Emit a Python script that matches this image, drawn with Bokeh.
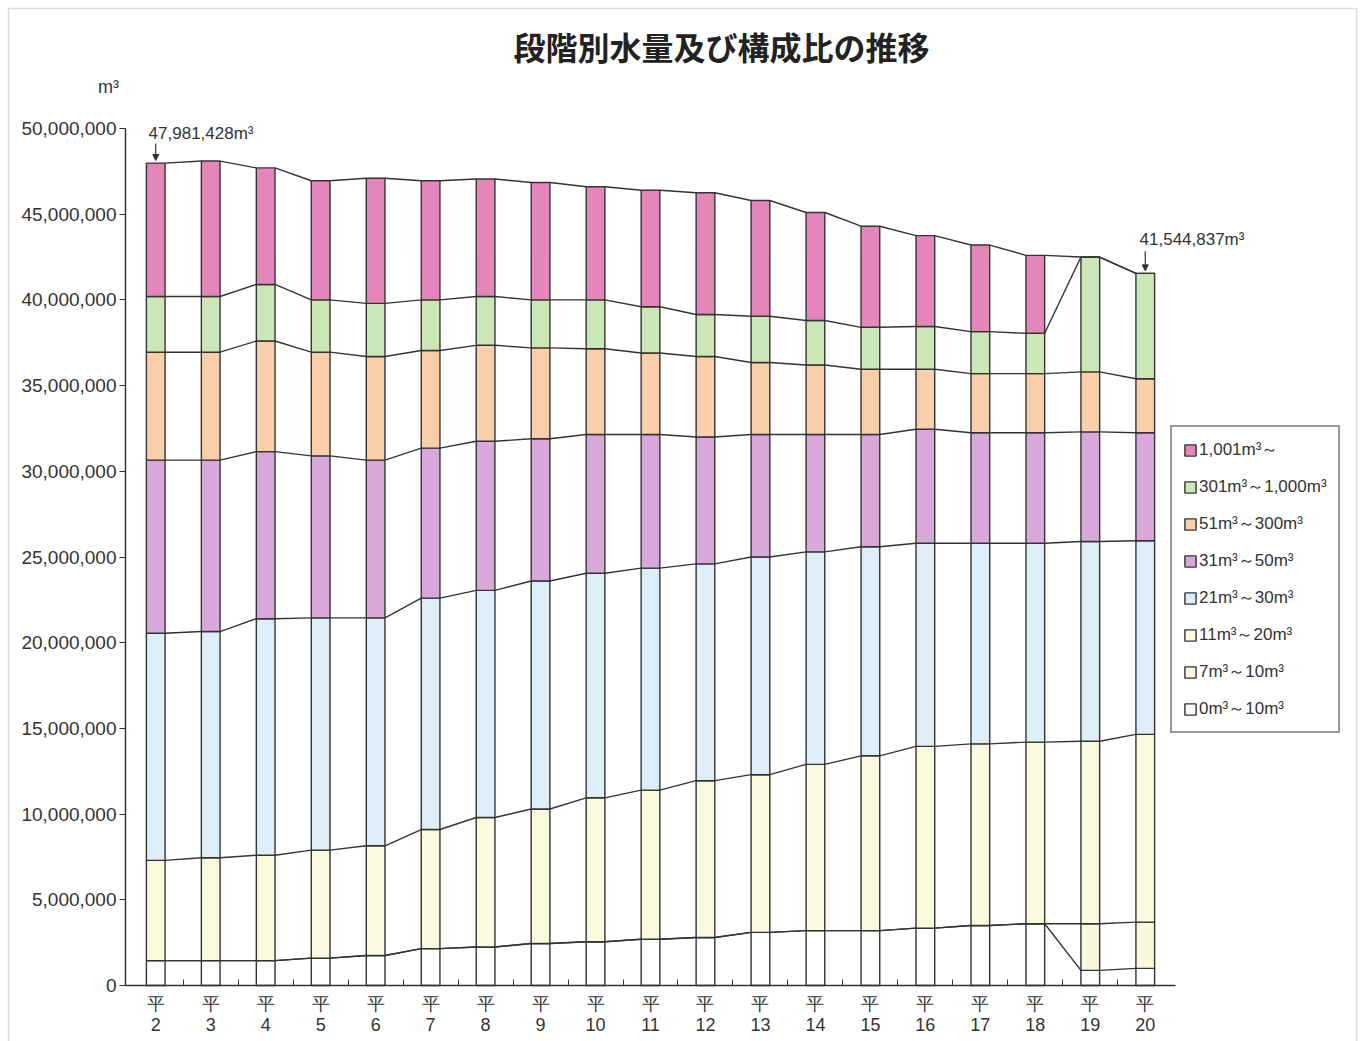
import numpy as np
from bokeh.plotting import figure
from bokeh.models import (ColumnDataSource, FixedTicker, NumeralTickFormatter, Legend,
                          LegendItem, Label, Arrow, NormalHead, BoxAnnotation)
from bokeh.embed import file_html
from bokeh.resources import INLINE

years = [2, 3, 4, 5, 6, 7, 8, 9, 10, 11, 12, 13, 14, 15, 16, 17, 18, 19, 20]
tick_labels = [f"平\n{y}" for y in years]

layer_names = ["0m³～10m³", "7m³～10m³", "11m³～20m³", "21m³～30m³",
               "31m³～50m³", "51m³～300m³", "301m³～1,000m³", "1,001m³～"]

v_0_10 = [1450000, 1450000, 1450000, 1600000, 1750000, 2150000, 2250000, 2450000, 2550000, 2700000,
          2800000, 3100000, 3200000, 3200000, 3350000, 3500000, 3600000, 880000, 1000000]
v_7_10 = [0, 0, 0, 0, 0, 0, 0, 0, 0, 0, 0, 0, 0, 0, 0, 0, 0, 2720000, 2700000]
v_11_20 = [5850000, 6000000, 6150000, 6300000, 6400000, 6950000, 7550000, 7850000, 8400000, 8700000,
           9150000, 9200000, 9700000, 10200000, 10600000, 10600000, 10600000, 10650000, 10950000]
v_21_30 = [13250000, 13200000, 13800000, 13550000, 13300000, 13500000, 13250000, 13300000, 13100000, 12950000,
           12650000, 12700000, 12400000, 12200000, 11850000, 11700000, 11600000, 11650000, 11300000]
v_31_50 = [10100000, 10000000, 9750000, 9450000, 9200000, 8750000, 8700000, 8300000, 8100000, 7800000,
           7400000, 7150000, 6850000, 6550000, 6650000, 6450000, 6450000, 6400000, 6300000]
v_51_300 = [6300000, 6300000, 6450000, 6050000, 6050000, 5700000, 5600000, 5300000, 5000000, 4750000,
            4700000, 4200000, 4050000, 3800000, 3500000, 3450000, 3450000, 3500000, 3150000]
v_301_1000 = [3250000, 3250000, 3300000, 3050000, 3100000, 2950000, 2850000, 2800000, 2850000, 2700000,
              2450000, 2700000, 2600000, 2450000, 2500000, 2450000, 2350000, 6700000, 6144837]
v_1001 = [7781428, 7900000, 6800000, 6950000, 7300000, 6950000, 6850000, 6850000, 6600000, 6800000,
          7100000, 6750000, 6300000, 5900000, 5300000, 5050000, 4550000, 0, 0]

colors = ["#FFFFFF", "#FAF8DC", "#FBFADF", "#DDEEF8", "#D9A8DA", "#F9CFAB", "#CBE6B7", "#E586BA"]

keys = ["l0", "l1", "l2", "l3", "l4", "l5", "l6", "l7"]
layers = [v_0_10, v_7_10, v_11_20, v_21_30, v_31_50, v_51_300, v_301_1000, v_1001]
data = {"x": years}
for k, arr in zip(keys, layers):
    data[k] = arr
src = ColumnDataSource(data)

# page geometry: frame fills the whole canvas, axes are placed at fixed locations
WIDTH, HEIGHT = 1362, 1041
AX_L, AX_R, AX_T, AX_B = 125, 1175, 128, 985
X_LO, X_HI = years[0] - 0.55, years[-1] + 0.55
Y_LO, Y_HI = 0, 50000000
dx = (X_HI - X_LO) / (AX_R - AX_L)
dy = (Y_HI - Y_LO) / (AX_B - AX_T)
x_start = X_LO - AX_L * dx
x_end = X_HI + (WIDTH - AX_R) * dx
y_start = Y_LO - (HEIGHT - AX_B) * dy
y_end = Y_HI + AX_T * dy

W = 0.34
p = figure(width=WIDTH, height=HEIGHT, output_backend="svg", toolbar_location=None,
           x_range=(x_start, x_end), y_range=(y_start, y_end),
           min_border=0)
p.background_fill_color = "white"
p.border_fill_color = "white"
p.outline_line_color = None
p.grid.visible = False

# page frame of the scanned sheet
p.add_layout(BoxAnnotation(left=x_start + 8 * dx, right=x_end - 6 * dx,
                           top=y_end - 8 * dy, bottom=y_start - 50 * dy,
                           fill_alpha=0, line_color="#8a8a8a", line_width=1.5))

rs = p.vbar_stack(keys, x="x", width=W, source=src, fill_color=colors,
                  line_color="#333333", line_width=1.4)

# connecting lines between bars at every cumulative boundary
cum = np.cumsum(np.array(layers, dtype=float), axis=0)
xs = np.array(years, dtype=float)
x0s, y0s, x1s, y1s = [], [], [], []
for k in range(cum.shape[0]):
    for i in range(len(years) - 1):
        x0s.append(xs[i] + W / 2)
        y0s.append(cum[k, i])
        x1s.append(xs[i + 1] - W / 2)
        y1s.append(cum[k, i + 1])
p.segment(x0=x0s, y0=y0s, x1=x1s, y1=y1s, line_color="#333333", line_width=1.4)

# axes
p.xaxis.fixed_location = 0
p.xaxis.bounds = (X_LO, X_HI)
p.xaxis.ticker = FixedTicker(ticks=years, minor_ticks=[y + 0.5 for y in years[:-1]])
p.xaxis.major_label_overrides = {y: lab for y, lab in zip(years, tick_labels)}
p.xaxis.major_tick_in = 0
p.xaxis.major_tick_out = 0
p.xaxis.minor_tick_in = 6
p.xaxis.minor_tick_out = 0
p.xaxis.minor_tick_line_color = "#333333"
p.xaxis.axis_line_color = "#333333"
p.xaxis.axis_line_width = 1.5
p.xaxis.major_label_text_font = "Liberation Sans"
p.xaxis.major_label_text_font_size = "18px"
p.xaxis.major_label_text_line_height = 1.05
p.xaxis.major_label_text_color = "#333333"
p.xaxis.major_label_standoff = 8

p.yaxis.fixed_location = X_LO
p.yaxis.bounds = (Y_LO, Y_HI)
p.yaxis.ticker = FixedTicker(ticks=list(range(0, 50000001, 5000000)))
p.yaxis.formatter = NumeralTickFormatter(format="0,0")
p.yaxis.major_tick_in = 0
p.yaxis.major_tick_out = 6
p.yaxis.minor_tick_line_color = None
p.yaxis.axis_line_color = "#333333"
p.yaxis.axis_line_width = 1.5
p.yaxis.major_tick_line_color = "#333333"
p.yaxis.major_label_text_font = "Liberation Sans"
p.yaxis.major_label_text_font_size = "19px"
p.yaxis.major_label_text_color = "#333333"
p.yaxis.major_label_standoff = 3

# legend (top item first)
items = [LegendItem(label=layer_names[i], renderers=[rs[i]]) for i in reversed(range(8))]
legend = Legend(items=items, location=(1170, HEIGHT - 733), orientation="vertical")
legend.border_line_color = "#333333"
legend.border_line_width = 2
legend.background_fill_color = "white"
legend.background_fill_alpha = 1
legend.label_text_font = "Liberation Sans"
legend.label_text_font_size = "17px"
legend.label_text_color = "#333333"
legend.glyph_height = 14
legend.glyph_width = 14
legend.label_height = 20
legend.label_standoff = 2
legend.spacing = 14
legend.padding = 11
legend.margin = 0
p.add_layout(legend)

# title and annotations
totals = cum[-1]
p.add_layout(Label(x=x_start + 721 * dx, y=y_end - 45 * dy, text="段階別水量及び構成比の推移",
                   text_align="center", text_baseline="middle",
                   text_font="Noto Sans CJK JP", text_font_style="bold",
                   text_font_size="32px", text_color="#222222"))
p.add_layout(Label(x=x_start + 108 * dx, y=y_end - 86 * dy, text="m³", text_align="center",
                   text_baseline="middle",
                   text_font="Liberation Sans", text_font_size="18px", text_color="#333333"))

first_total = int(round(totals[0]))
last_total = int(round(totals[-1]))
p.add_layout(Label(x=years[0] - 0.13, y=totals[0] + 1750000, text=f"{first_total:,}m³",
                   text_align="left", text_baseline="middle",
                   text_font="Liberation Sans", text_font_size="17px", text_color="#333333"))
p.add_layout(Arrow(x_start=years[0], y_start=totals[0] + 1150000, x_end=years[0], y_end=totals[0] + 150000,
                   line_color="#333333", line_width=1.2,
                   end=NormalHead(size=6, fill_color="#333333", line_color="#333333")))
p.add_layout(Label(x=years[-1] + 0.85, y=totals[-1] + 1950000, text=f"{last_total:,}m³",
                   text_align="center", text_baseline="middle",
                   text_font="Liberation Sans", text_font_size="17px", text_color="#333333"))
p.add_layout(Arrow(x_start=years[-1], y_start=totals[-1] + 1300000, x_end=years[-1], y_end=totals[-1] + 150000,
                   line_color="#333333", line_width=1.2,
                   end=NormalHead(size=6, fill_color="#333333", line_color="#333333")))

open("out.html", "w").write(file_html(p, INLINE))
